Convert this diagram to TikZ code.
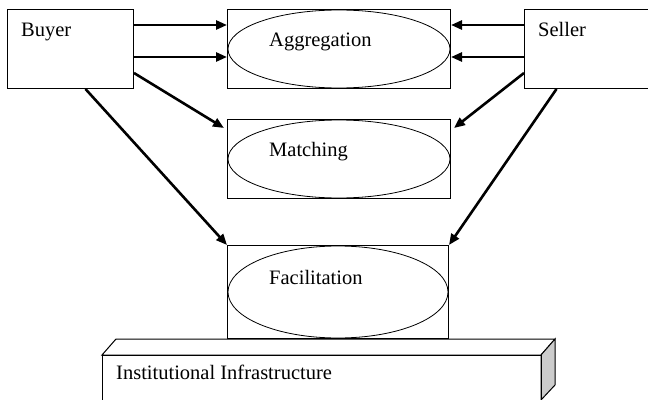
\documentclass[tikz,border=0pt]{standalone}
\usepackage{fontspec}
\setmainfont{Liberation Serif}
\usetikzlibrary{arrows.meta,shapes.geometric}
\begin{document}
\begin{tikzpicture}[x=1pt,y=-1pt,
  box/.style={draw,line width=1pt,inner sep=0pt,anchor=north west},
  oval/.style={draw,line width=0.8pt,ellipse,inner sep=0pt},
  lbl/.style={anchor=base west,inner sep=0pt,font=\fontsize{20.5}{24}\selectfont},
  arr/.style={line width=2.6pt,-{Triangle[length=11pt,width=9pt]}}]
\useasboundingbox (0,0) rectangle (648,399);
\clip (0,0) rectangle (648,399);
% boxes
\node[box,minimum width=126,minimum height=79] (buyer) at (7,9) {};
\node[box,minimum width=130,minimum height=79] (seller) at (524,9) {};
\node[box,minimum width=223,minimum height=79] (aggbox) at (227,9) {};
\node[box,minimum width=223,minimum height=79] (matbox) at (227,119) {};
\node[box,minimum width=221,minimum height=93] (facbox) at (227,245) {};
% ellipses
\node[oval,minimum width=222,minimum height=78] (aggell) at (aggbox.center) {};
\node[oval,minimum width=222,minimum height=78] (matell) at (matbox.center) {};
\node[oval,minimum width=220,minimum height=92] (facell) at (facbox.center) {};
% institutional infrastructure block
\coordinate (ia) at (102,355);
\coordinate (ib) at (116,339);
\coordinate (ic) at (555,339);
\coordinate (id) at (541,355);
\coordinate (ie) at (555,385);
\coordinate (iff) at (541,400);
\coordinate (ig) at (102,405);
\filldraw[fill=white,line width=1pt] (ia) -- (ib) -- (ic) -- (id) -- cycle;
\filldraw[fill=black!20,line width=1pt] (id) -- (ic) -- (ie) -- (iff) -- cycle;
\draw[line width=1pt] (ig) -- (ia) -- (id) -- (iff);
% labels
\node[lbl] (tbuyer) at (21,36) {Buyer};
\node[lbl] (tseller) at (538,36) {Seller};
\node[lbl] (tagg) at (269,46) {Aggregation};
\node[lbl] (tmat) at (269,156) {Matching};
\node[lbl] (tfac) at (269,284) {Facilitation};
\node[lbl] (tinst) at (116,379) {Institutional Infrastructure};
% arrows
\draw[arr] ([yshift=-16]buyer.north east) -- ([yshift=-16]aggbox.north west);
\draw[arr] ([yshift=-48]buyer.north east) -- ([yshift=-48]aggbox.north west);
\draw[arr] ([yshift=-16]seller.north west) -- ([yshift=-16]aggbox.north east);
\draw[arr] ([yshift=-48]seller.north west) -- ([yshift=-48]aggbox.north east);
\draw[arr] ([yshift=16]buyer.south east) -- ([xshift=-3,yshift=-9]matbox.north west);
\draw[arr] ([yshift=16]seller.south west) -- ([xshift=3,yshift=-9]matbox.north east);
\draw[arr] ([xshift=15]buyer.south) -- (facbox.north west);
\draw[arr] ([xshift=-33]seller.south) -- (facbox.north east);
\end{tikzpicture}
\end{document}
